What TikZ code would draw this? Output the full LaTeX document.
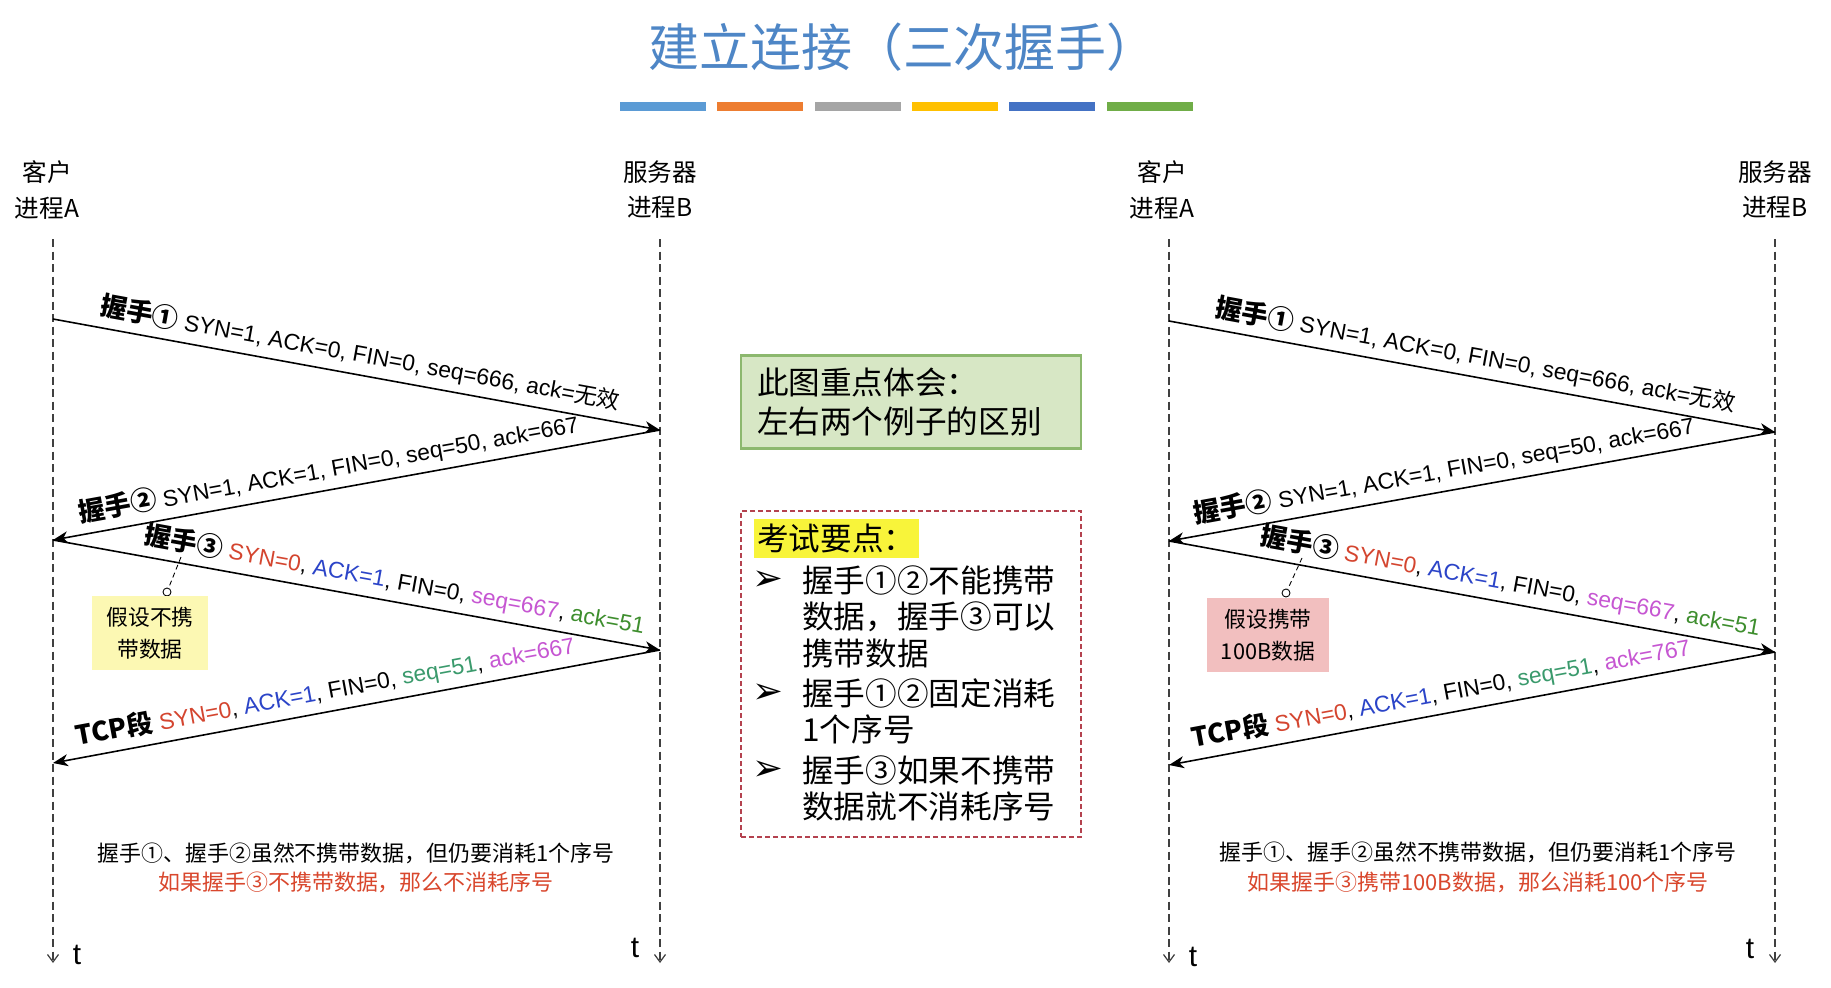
\documentclass[tikz,border=0pt]{standalone}
\usepackage{fontspec}
\setmainfont{Liberation Sans}
\newfontfamily\cjk{Noto Sans CJK SC}
\newfontfamily\dingfont{DejaVu Sans}
\usetikzlibrary{arrows.meta}

\definecolor{titleblue}{HTML}{4E86C6}
\definecolor{barA}{HTML}{5B9BD5}
\definecolor{barB}{HTML}{ED7D31}
\definecolor{barC}{HTML}{A5A5A5}
\definecolor{barD}{HTML}{FFC000}
\definecolor{barE}{HTML}{4472C4}
\definecolor{barF}{HTML}{70AD47}
\definecolor{synred}{HTML}{D4452F}
\definecolor{ackblue}{HTML}{2B44C8}
\definecolor{seqpink}{HTML}{C656D2}
\definecolor{ackgreen}{HTML}{3E8E2E}
\definecolor{seqgreen}{HTML}{3A9A6C}
\definecolor{noteyel}{HTML}{FCF8B3}
\definecolor{notepink}{HTML}{F2BFBF}
\definecolor{keyfill}{HTML}{D7E7C5}
\definecolor{keyline}{HTML}{8CB86E}
\definecolor{examline}{HTML}{B4424F}
\definecolor{examhl}{HTML}{F8F43A}
\definecolor{remred}{HTML}{D9472D}

\newcommand{\hs}[1]{{\cjk\bfseries\fontsize{15pt}{15pt}\selectfont #1}}
\newcommand{\zh}[1]{{\cjk #1}}

\tikzset{
  life/.style={draw=black!75, line width=0.7pt, dash pattern=on 1.6mm off 0.9mm,
    -{Straight Barb[length=1.5mm,width=2.2mm]}},
  msg/.style={line width=0.9pt, -{Stealth[length=3mm,width=2.4mm,inset=0.9mm]}},
  lbl/.style={sloped, above=4pt, inner sep=0pt, font=\fontsize{13pt}{15pt}\selectfont},
  hdr/.style={align=center, inner sep=0pt, font=\cjk\fontsize{14pt}{20pt}\selectfont},
  tlab/.style={inner sep=0pt, font=\fontsize{17pt}{17pt}\selectfont},
  dot/.style={circle, draw, fill=white, line width=0.5pt, inner sep=0pt, minimum size=1.6mm},
  pin/.style={line width=0.5pt, dash pattern=on 1mm off 0.7mm},
  note/.style={align=center, inner sep=0pt, minimum height=14.8mm,
    font=\cjk\fontsize{12.4pt}{18pt}\selectfont},
  remark/.style={inner sep=0pt, font=\cjk\fontsize{12.5pt}{15pt}\selectfont},
  bigtxt/.style={font=\cjk\fontsize{18pt}{20.8pt}\selectfont},
  item/.style={bigtxt, align=left, anchor=west, inner sep=0pt},
  bullet/.style={inner sep=0pt, font=\dingfont\fontsize{21pt}{21pt}\selectfont},
}

\begin{document}
\begin{tikzpicture}[x=0.2mm,y=-0.2mm]
\useasboundingbox (0,0) rectangle (1831,987);
\fill[white] (0,0) rectangle (1831,987);

\node[inner sep=0pt, text=titleblue, font=\cjk\fontsize{29pt}{29pt}\selectfont] (title) at (903,47) {建立连接（三次握手）};
\foreach \c [count=\i from 0] in {barA,barB,barC,barD,barE,barF}
  \fill[\c] (620+97.3*\i,102) rectangle ++(86,9);

% left example
\node[hdr] (hA) at (47,190) {客户\\进程A};
\node[hdr] (hB) at (660,190) {服务器\\进程B};
\coordinate (A0) at (53,239); \coordinate (A9) at (53,963);
\coordinate (B0) at (660,239); \coordinate (B9) at (660,963);
\draw[life] (A0) -- (A9);
\draw[life] (B0) -- (B9);
\node[tlab] (tA) at (77,955) {t};
\node[tlab] (tB) at (635,948) {t};

\coordinate (A1) at (53,319); \coordinate (B1) at (660,430);
\coordinate (A2) at (53,540); \coordinate (B2) at (660,650);
\coordinate (A3) at (53,763);
\draw[msg] (A1) -- (B1) node[lbl, pos=0.5] {\hs{握手①} SYN=1, ACK=0, FIN=0, seq=666, ack=\zh{无效}};
\draw[msg] (B1) -- (A2) node[lbl, pos=0.54] {\hs{握手②} SYN=1, ACK=1, FIN=0, seq=50, ack=667};
\draw[msg] (A2) -- (B2) node[lbl, pos=0.557] {\hs{握手③} \textcolor{synred}{SYN=0}, \textcolor{ackblue}{ACK=1}, FIN=0, \textcolor{seqpink}{seq=667}, \textcolor{ackgreen}{ack=51}};
\draw[msg] (B2) -- (A3) node[lbl, pos=0.545] {\hs{TCP段} \textcolor{synred}{SYN=0}, \textcolor{ackblue}{ACK=1}, FIN=0, \textcolor{seqgreen}{seq=51}, \textcolor{seqpink}{ack=667}};

\coordinate (pinL) at (181,557);
\node[dot] (dotL) at (167,592) {};
\draw[pin] (pinL) -- (dotL);
\node[note, fill=noteyel, minimum width=23.2mm] (noteL) at (150,633) {假设不携\\带数据};

\node[remark] (remL1) at (356,853) {握手①、握手②虽然不携带数据，但仍要消耗1个序号};
\node[remark, text=remred] (remL2) at (356,882) {如果握手③不携带数据，那么不消耗序号};

% middle
\node[bigtxt, draw=keyline, line width=1.2pt, fill=keyfill, minimum width=68mm, minimum height=18.6mm,
  text width=61.6mm, align=left, inner sep=0pt, font=\cjk\fontsize{18pt}{22pt}\selectfont] (key) at (911,402) {此图重点体会：\\左右两个例子的区别};
\node[draw=examline, line width=0.9pt, dash pattern=on 1mm off 0.6mm, minimum width=68mm, minimum height=65.2mm] (exam) at (911,674) {};
\node[bigtxt, fill=examhl, anchor=west, inner xsep=0.6mm, inner ysep=0pt, minimum height=7.8mm] (examt) at (754,538) {考试要点：};
\node[bullet] (b1) at (768,581) {➢};
\node[item] (i1) at (802,616.5) {握手①②不能携带\\数据，握手③可以\\携带数据};
\node[bullet] (b2) at (768,694) {➢};
\node[item] (i2) at (802,711.5) {握手①②固定消耗\\1个序号};
\node[bullet] (b3) at (768,771) {➢};
\node[item] (i3) at (802,788.5) {握手③如果不携带\\数据就不消耗序号};

% right example
\node[hdr] (hA') at (1162,190) {客户\\进程A};
\node[hdr] (hB') at (1775,190) {服务器\\进程B};
\coordinate (C0) at (1169,239); \coordinate (C9) at (1169,963);
\coordinate (D0) at (1775,239); \coordinate (D9) at (1775,963);
\draw[life] (C0) -- (C9);
\draw[life] (D0) -- (D9);
\node[tlab] (tC) at (1193,957) {t};
\node[tlab] (tD) at (1750,949) {t};

\coordinate (C1) at (1169,321); \coordinate (D1) at (1775,432);
\coordinate (C2) at (1169,541); \coordinate (D2) at (1775,652);
\coordinate (C3) at (1169,765);
\draw[msg] (C1) -- (D1) node[lbl, pos=0.5] {\hs{握手①} SYN=1, ACK=0, FIN=0, seq=666, ack=\zh{无效}};
\draw[msg] (D1) -- (C2) node[lbl, pos=0.54] {\hs{握手②} SYN=1, ACK=1, FIN=0, seq=50, ack=667};
\draw[msg] (C2) -- (D2) node[lbl, pos=0.557] {\hs{握手③} \textcolor{synred}{SYN=0}, \textcolor{ackblue}{ACK=1}, FIN=0, \textcolor{seqpink}{seq=667}, \textcolor{ackgreen}{ack=51}};
\draw[msg] (D2) -- (C3) node[lbl, pos=0.545] {\hs{TCP段} \textcolor{synred}{SYN=0}, \textcolor{ackblue}{ACK=1}, FIN=0, \textcolor{seqgreen}{seq=51}, \textcolor{seqpink}{ack=767}};

\coordinate (pinR) at (1302,558);
\node[dot] (dotR) at (1286,593) {};
\draw[pin] (pinR) -- (dotR);
\node[note, fill=notepink, minimum width=24.4mm] (noteR) at (1268,635) {假设携带\\100B数据};

\node[remark] (remR1) at (1478,852) {握手①、握手②虽然不携带数据，但仍要消耗1个序号};
\node[remark, text=remred] (remR2) at (1478,882) {如果握手③携带100B数据，那么消耗100个序号};
\end{tikzpicture}
\end{document}
